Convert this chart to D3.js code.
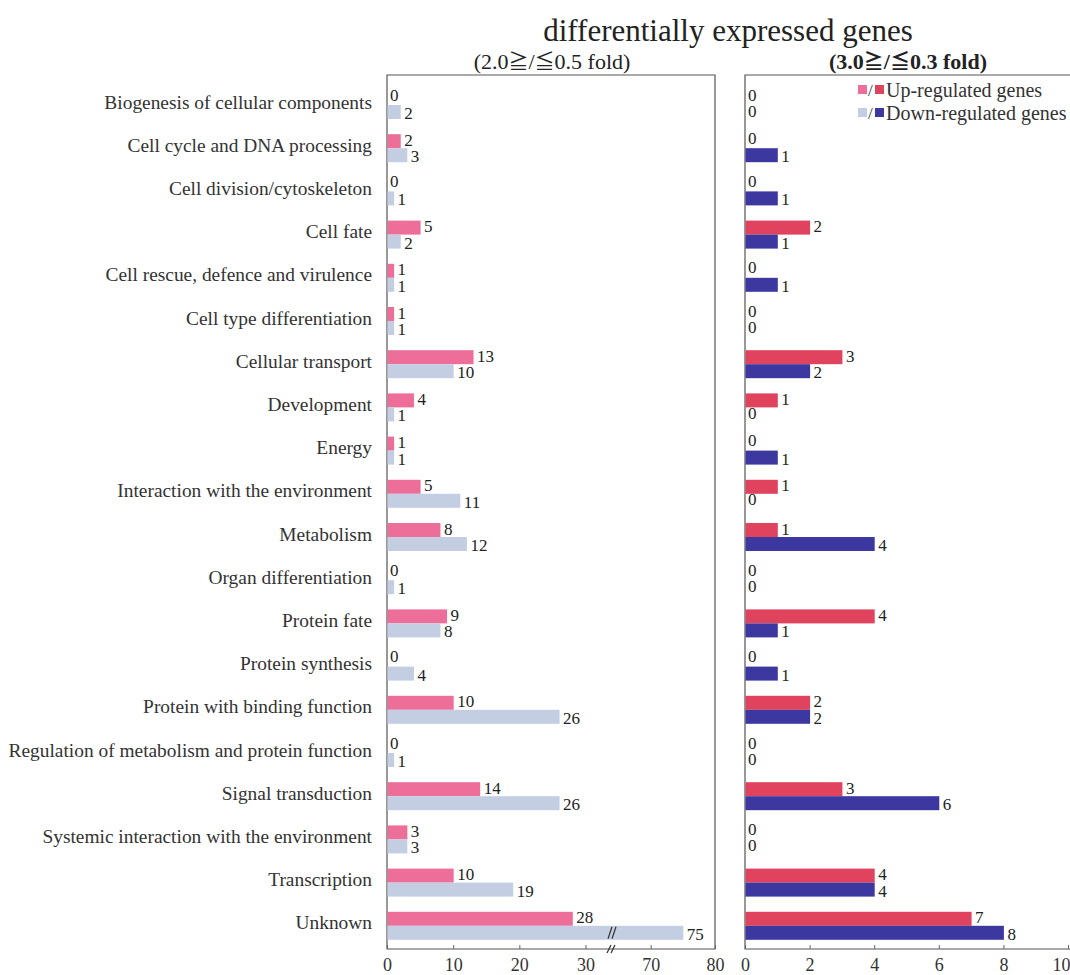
<!DOCTYPE html>
<html>
<head>
<meta charset="utf-8">
<script src="https://cdn.jsdelivr.net/npm/d3@7"></script>
<style>
  html, body { margin: 0; padding: 0; background: #fff; }
  svg { display: block; font-family: "Liberation Serif", "DejaVu Serif", serif; }
</style>
</head>
<body>
<svg id="chart" width="1070" height="975"></svg>
<script>
// Functional categories of the differentially expressed genes
const categories = [
  "Biogenesis of cellular components",
  "Cell cycle and DNA processing",
  "Cell division/cytoskeleton",
  "Cell fate",
  "Cell rescue, defence and virulence",
  "Cell type differentiation",
  "Cellular transport",
  "Development",
  "Energy",
  "Interaction with the environment",
  "Metabolism",
  "Organ differentiation",
  "Protein fate",
  "Protein synthesis",
  "Protein with binding function",
  "Regulation of metabolism and protein function",
  "Signal transduction",
  "Systemic interaction with the environment",
  "Transcription",
  "Unknown"
];

// 2.0 / 0.5 fold threshold
const upLow   = [0, 2, 0, 5, 1, 1, 13, 4, 1, 5, 8, 0, 9, 0, 10, 0, 14, 3, 10, 28];
const downLow = [2, 3, 1, 2, 1, 1, 10, 1, 1, 11, 12, 1, 8, 4, 26, 1, 26, 3, 19, 75];

// 3.0 / 0.3 fold threshold
const upHigh   = [0, 0, 0, 2, 0, 0, 3, 1, 0, 1, 1, 0, 4, 0, 2, 0, 3, 0, 4, 7];
const downHigh = [0, 1, 1, 1, 1, 0, 2, 0, 1, 0, 4, 0, 1, 1, 2, 0, 6, 0, 4, 8];

const leftTicks  = [0, 10, 20, 30, 70, 80];
const rightTicks = [0, 2, 4, 6, 8, 10];

const colors = {
  upLow: "#ec6e99", downLow: "#c4cee3",
  upHigh: "#e0435d", downHigh: "#3d389f"
};

const svg = d3.select("#chart");
const plotTop = 75, plotBottom = 949;

const y = d3.scaleBand().domain(categories).range([83.4, 947.4]);
const barH = 14;
const center = c => y(c) + y.bandwidth() / 2;

// Left panel with a broken axis between 34 and 64
const xL = d3.scaleLinear().domain([0, 34, 64, 80]).range([387, 612, 612, 715]);
// Right panel
const xR = d3.scaleLinear().domain([0, 10]).range([745, 1068]);

// Titles
svg.append("text").attr("x", 728).attr("y", 41).attr("text-anchor", "middle")
  .attr("font-size", 31).attr("fill", "#222").text("differentially expressed genes");

// fold-change subtitles; the ≧ / ≦ signs are set as full-width glyphs
function subtitle(cx, parts, bold) {
  const t = svg.append("text").attr("x", cx).attr("y", 69).attr("text-anchor", "middle")
    .attr("font-size", 22).attr("fill", "#222").attr("font-weight", bold ? "bold" : null);
  parts.forEach(p => {
    const s = t.append("tspan").text(p);
    if (/[≧≦]/.test(p)) s.attr("font-family", "Noto Sans CJK JP, sans-serif").attr("font-size", 20);
  });
}
subtitle(552, ["(2.0", "≧", "/", "≦", "0.5 fold)"], false);
subtitle(908, ["(3.0", "≧", "/", "≦", "0.3 fold)"], true);

// Category labels
svg.append("g").selectAll("text").data(categories).join("text")
  .attr("x", 372).attr("y", c => center(c) - 3)
  .attr("text-anchor", "end").attr("dominant-baseline", "central")
  .attr("font-size", 19.4).attr("fill", "#333")
  .text(c => c);

function panel(x, ups, downs, upColor, downColor, ticks, x1, closeRight) {
  const g = svg.append("g");
  const x0 = x.range()[0];

  // frame
  const frame = d3.path();
  if (closeRight) {
    frame.rect(x0, plotTop, x1 - x0, plotBottom - plotTop);
  } else {
    frame.moveTo(x1, plotTop); frame.lineTo(x0, plotTop); frame.lineTo(x0, plotBottom); frame.lineTo(x1, plotBottom);
  }
  g.append("path").attr("d", frame.toString()).attr("fill", "none")
    .attr("stroke", "#555").attr("stroke-width", 1.2);

  const rows = categories.map((c, i) => ({ c, up: ups[i], down: downs[i] }));

  g.selectAll("rect.up").data(rows).join("rect").attr("class", "up")
    .attr("x", x0 + 0.5).attr("y", d => center(d.c) - barH)
    .attr("width", d => Math.max(0, x(d.up) - x0)).attr("height", barH)
    .attr("fill", upColor);
  g.selectAll("rect.down").data(rows).join("rect").attr("class", "down")
    .attr("x", x0 + 0.5).attr("y", d => center(d.c))
    .attr("width", d => Math.max(0, x(d.down) - x0)).attr("height", barH)
    .attr("fill", downColor);

  // value labels
  g.selectAll("text.uplab").data(rows).join("text").attr("class", "uplab")
    .attr("x", d => d.up === 0 ? x0 + 3 : x(d.up) + 4)
    .attr("y", d => center(d.c) - barH / 2 - (d.up === 0 ? 3 : 1))
    .attr("dominant-baseline", "central").attr("font-size", 17).attr("fill", "#222")
    .text(d => d.up);
  g.selectAll("text.downlab").data(rows).join("text").attr("class", "downlab")
    .attr("x", d => d.down === 0 ? x0 + 3 : x(d.down) + 4)
    .attr("y", d => center(d.c) + barH / 2 + (d.down === 0 ? -1 : 1.5))
    .attr("dominant-baseline", "central").attr("font-size", 17).attr("fill", "#222")
    .text(d => d.down);

  // bottom axis
  const ax = g.append("g").attr("transform", `translate(0,${plotBottom})`)
    .call(d3.axisBottom(x).tickValues(ticks).tickSize(-4).tickPadding(9).tickFormat(d3.format("d")));
  ax.select(".domain").remove();
  ax.selectAll(".tick line").attr("stroke", "#666");
  ax.selectAll(".tick text").attr("font-size", 18).attr("fill", "#333")
    .attr("font-family", "Liberation Serif, serif");
  return { g, ax };
}

panel(xL, upLow, downLow, colors.upLow, colors.downLow, leftTicks, 715, true);
const right = panel(xR, upHigh, downHigh, colors.upHigh, colors.downHigh, rightTicks, 1070, false);
right.ax.selectAll(".tick text").filter(d => d === 10).attr("text-anchor", "end").attr("dx", 2);

// axis break marks on the left panel
const bx = xL(34);
const brk = svg.append("g").attr("stroke", "#333").attr("stroke-width", 1.2).attr("fill", "none");
const lastC = center(categories[categories.length - 1]);
[-2, 2].forEach(dx => {
  brk.append("line").attr("x1", bx + dx - 2).attr("y1", lastC + 13)
    .attr("x2", bx + dx + 2).attr("y2", lastC + 1);
  brk.append("line").attr("x1", bx + dx - 3).attr("y1", plotBottom + 4)
    .attr("x2", bx + dx + 1).attr("y2", plotBottom - 4);
});

// legend
const legend = svg.append("g").attr("transform", "translate(858,90)");
[["Up-regulated genes", colors.upLow, colors.upHigh],
 ["Down-regulated genes", colors.downLow, colors.downHigh]].forEach(([label, c1, c2], i) => {
  const row = legend.append("g").attr("transform", `translate(0,${i * 23})`);
  row.append("rect").attr("x", 0).attr("y", -5).attr("width", 9).attr("height", 9).attr("fill", c1);
  row.append("text").attr("x", 10).attr("y", 0).attr("dominant-baseline", "central")
    .attr("font-size", 17).attr("fill", "#333").text("/");
  row.append("rect").attr("x", 17).attr("y", -5).attr("width", 9).attr("height", 9).attr("fill", c2);
  row.append("text").attr("x", 28).attr("y", 0).attr("dominant-baseline", "central")
    .attr("font-size", 20).attr("fill", "#333").text(label);
});
</script>
</body>
</html>
